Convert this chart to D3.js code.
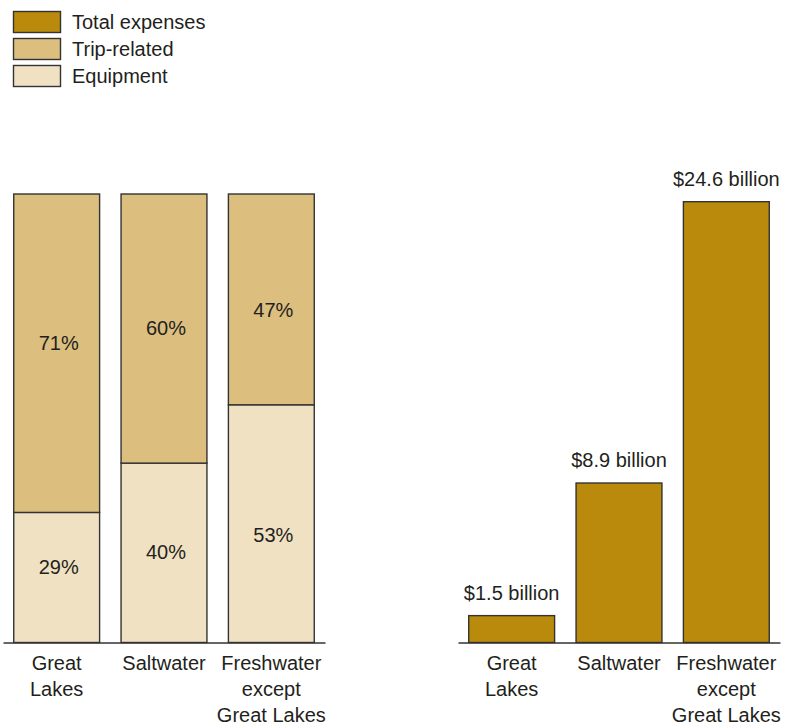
<!DOCTYPE html>
<html>
<head>
<meta charset="utf-8">
<script src="https://cdn.jsdelivr.net/npm/d3@7"></script>
<style>
  html, body { margin: 0; padding: 0; background: #fff; }
  svg { display: block; }
  text { font-family: "Liberation Sans", Arial, Helvetica, sans-serif; fill: #231f20; }
</style>
</head>
<body>
<svg id="chart" width="791" height="725"></svg>
<script>
// ---- Data ----
const categories = ["Great Lakes", "Saltwater", "Freshwater except Great Lakes"];
const categoryLines = [["Great", "Lakes"], ["Saltwater"], ["Freshwater", "except", "Great Lakes"]];
const tripShare = [71, 60, 47];        // percent of expenses, trip-related
const equipShare = [29, 40, 53];       // percent of expenses, equipment
const totalBillions = [1.5, 8.9, 24.6]; // total expenses, $ billion
const legendLabels = ["Total expenses", "Trip-related", "Equipment"];

// ---- Styles ----
const colTotal = "#b98a0c", colTrip = "#dcbe7e", colEquip = "#f0e1c3";
const strokeCol = "#333";
const fontSize = 20;

const svg = d3.select("#chart");

// ---- Legend ----
const legendColors = [colTotal, colTrip, colEquip];
const lg = svg.append("g");
legendLabels.forEach((lab, i) => {
  const y0 = 11 + i * 27;
  lg.append("rect").attr("x", 13.5).attr("y", y0 + 0.5).attr("width", 47).attr("height", 21)
    .attr("fill", legendColors[i]).attr("stroke", strokeCol).attr("stroke-width", 1.4);
  lg.append("text").attr("x", 72).attr("y", y0 + 18).attr("font-size", fontSize).text(lab);
});

const baseY = 642.5;

// ---- Left: stacked percent bars ----
const xL = d3.scaleBand().domain(categories).range([3, 325]).paddingInner(0.2).paddingOuter(0.1);
const yL = d3.scaleLinear().domain([0, 100]).range([baseY, 194]);

const left = svg.append("g");
const stackData = categories.map((c, i) => ({ cat: c, equip: equipShare[i], trip: tripShare[i] }));

// equipment segments
left.selectAll("rect.equip").data(stackData).join("rect").attr("class", "equip")
  .attr("x", d => xL(d.cat)).attr("width", xL.bandwidth())
  .attr("y", d => yL(d.equip)).attr("height", d => yL(0) - yL(d.equip))
  .attr("fill", colEquip).attr("stroke", strokeCol).attr("stroke-width", 1.4);
// trip segments
left.selectAll("rect.trip").data(stackData).join("rect").attr("class", "trip")
  .attr("x", d => xL(d.cat)).attr("width", xL.bandwidth())
  .attr("y", d => yL(d.equip + d.trip)).attr("height", d => yL(d.equip) - yL(d.equip + d.trip))
  .attr("fill", colTrip).attr("stroke", strokeCol).attr("stroke-width", 1.4);

// label positions: segment centres pulled a little toward the row mean
const tripCentres = stackData.map(d => (yL(d.equip) + yL(d.equip + d.trip)) / 2);
const equipCentres = stackData.map(d => (yL(0) + yL(d.equip)) / 2);
const pull = (arr) => { const m = d3.mean(arr); return arr.map(v => v + 0.4 * (m - v)); };
const tripLabelY = pull(tripCentres), equipLabelY = pull(equipCentres);

left.selectAll("text.tripLab").data(stackData).join("text").attr("class", "tripLab")
  .attr("x", d => xL(d.cat) + xL.bandwidth() / 2 + 2).attr("y", (d, i) => tripLabelY[i] + 7)
  .attr("text-anchor", "middle").attr("font-size", fontSize).text(d => d.trip + "%");
left.selectAll("text.equipLab").data(stackData).join("text").attr("class", "equipLab")
  .attr("x", d => xL(d.cat) + xL.bandwidth() / 2 + 2).attr("y", (d, i) => equipLabelY[i] + 7)
  .attr("text-anchor", "middle").attr("font-size", fontSize).text(d => d.equip + "%");

// ---- Right: totals ----
const xR = d3.scaleBand().domain(categories).range([458, 780]).paddingInner(0.2).paddingOuter(0.1);
const yR = d3.scaleLinear().domain([0, d3.max(totalBillions)]).range([baseY, 201.7]);
const right = svg.append("g");
const totData = categories.map((c, i) => ({ cat: c, v: totalBillions[i] }));
right.selectAll("rect").data(totData).join("rect")
  .attr("x", d => xR(d.cat)).attr("width", xR.bandwidth())
  .attr("y", d => yR(d.v)).attr("height", d => yR(0) - yR(d.v))
  .attr("fill", colTotal).attr("stroke", strokeCol).attr("stroke-width", 1.4);
right.selectAll("text.val").data(totData).join("text").attr("class", "val")
  .attr("x", d => xR(d.cat) + xR.bandwidth() / 2).attr("y", d => yR(d.v) - 16)
  .attr("text-anchor", "middle").attr("font-size", fontSize)
  .text(d => "$" + d.v.toFixed(1) + " billion");

// ---- Axes ----
function drawAxis(x) {
  const g = svg.append("g").attr("transform", `translate(0,${baseY})`)
    .call(d3.axisBottom(x).tickSize(0).tickSizeOuter(0).tickFormat(""));
  g.select(".domain").attr("stroke", strokeCol).attr("stroke-width", 1.4);
  g.selectAll(".tick").each(function (d) {
    const i = categories.indexOf(d);
    const t = d3.select(this).append("text").attr("text-anchor", "middle")
      .attr("font-size", fontSize).attr("fill", "#231f20");
    categoryLines[i].forEach((ln, j) => {
      t.append("tspan").attr("x", 0).attr("y", 27.5 + j * 26).text(ln);
    });
  });
}
drawAxis(xL);
drawAxis(xR);
</script>
</body>
</html>
